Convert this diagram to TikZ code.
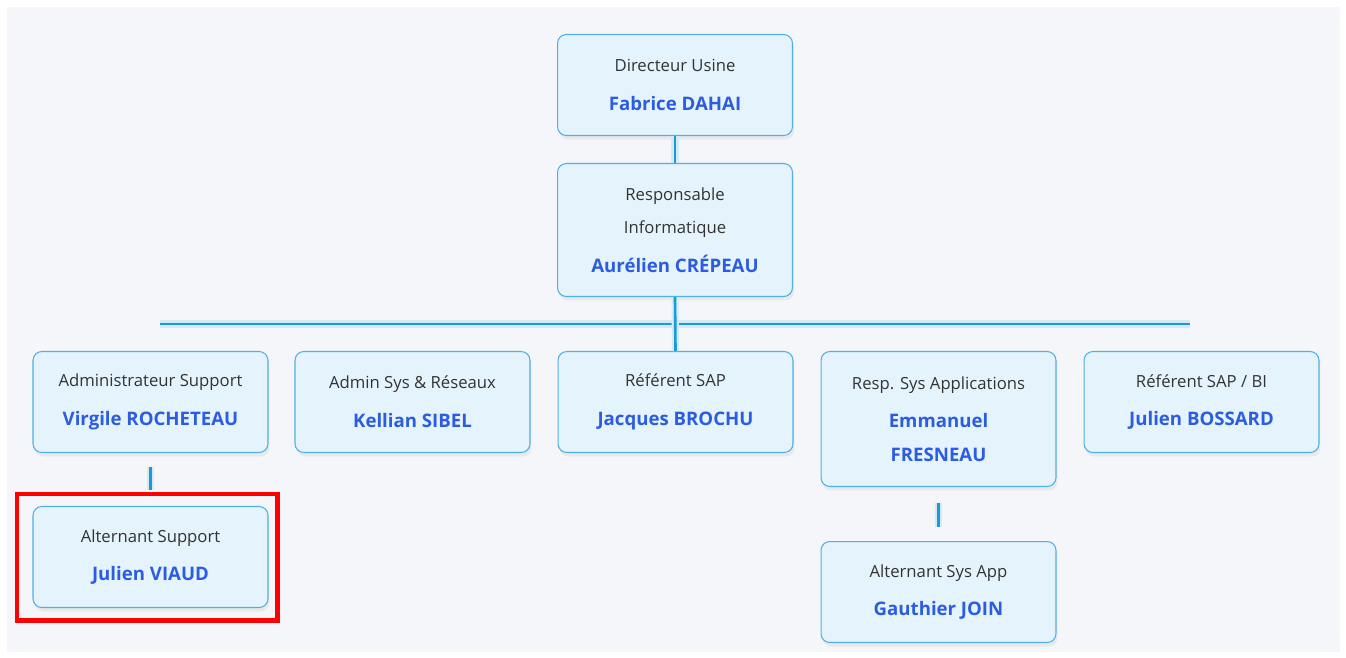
\documentclass[tikz,border=0pt]{standalone}
\usepackage{fontspec}
\setmainfont{Open Sans}
\usetikzlibrary{positioning,shadows}
\definecolor{boxfill}{HTML}{E4F3FC}
\definecolor{boxline}{HTML}{4FB0E3}
\definecolor{nameblue}{HTML}{2C5CE0}
\definecolor{titlegray}{HTML}{333333}
\definecolor{bggray}{HTML}{F4F6F9}
\definecolor{lineblue}{HTML}{1C9AD8}
\newcommand\nomp[1]{{\fontsize{10.6}{19}\selectfont\bfseries\color{nameblue}#1}}

\begin{document}
\begin{tikzpicture}[x=0.02cm,y=-0.02cm,
  post/.style={draw=boxline, fill=boxfill, line width=0.6pt, rounded corners=5pt,
    minimum width=4.7cm, minimum height=2.02cm, align=center, anchor=north,
    text=titlegray, font=\fontsize{9.5}{19}\selectfont,
    drop shadow={opacity=0.10, shadow xshift=0.03cm, shadow yshift=-0.08cm}},
  tallpost/.style={post, minimum height=2.7cm},
  link/.style={draw=lineblue, line width=1.5pt, preaction={draw=lineblue!20, line width=4pt}},
  highlight/.style={draw=red, line width=0.1cm}]
  % background
  \fill[white] (0,0) rectangle (1346,658);
  \fill[bggray] (7,7) rectangle (1340,652);
  % top of the tree
  \node[post] (dir) at (675,34) {Directeur Usine\\[3pt]\nomp{Fabrice DAHAI}};
  \node[post, minimum height=2.66cm] (resp) at (675,163) {Responsable\\Informatique\\[3pt]\nomp{Aurélien CRÉPEAU}};
  % team
  \node[post] (adm) at (150.5,351) {Administrateur Support\\[3pt]\nomp{Virgile ROCHETEAU}};
  \node[post] (sys) at (412.5,351) {Admin Sys \& Réseaux\\[3pt]\nomp{Kellian SIBEL}};
  \node[post] (sap) at (675.5,351) {Référent SAP\\[3pt]\nomp{Jacques BROCHU}};
  \node[tallpost] (app) at (938.5,351) {Resp. Sys Applications\\[3pt]\nomp{Emmanuel}\\\nomp{FRESNEAU}};
  \node[post] (bi) at (1201.5,351) {Référent SAP / BI\\[3pt]\nomp{Julien BOSSARD}};
  % alternants
  \node[post] (alt1) at (150.5,506) {Alternant Support\\[3pt]\nomp{Julien VIAUD}};
  \node[post] (alt2) at (938.5,541) {Alternant Sys App\\[3pt]\nomp{Gauthier JOIN}};
  % links
  \coordinate (hl) at (160,324);
  \coordinate (hr) at (1190,324);
  \draw[link] (hl) -- (hr);
  \draw[link] (dir.south) -- (resp.north);
  \draw[link] (resp.south) -- (sap.north);
  \draw[link, shorten <=0.28cm, shorten >=0.32cm] (adm.south) -- (alt1.north);
  \draw[link, shorten <=0.32cm, shorten >=0.28cm] (app.south) -- (alt2.north);
  % highlight
  \draw[highlight] (17,494) rectangle (277,620);
\end{tikzpicture}
\end{document}
